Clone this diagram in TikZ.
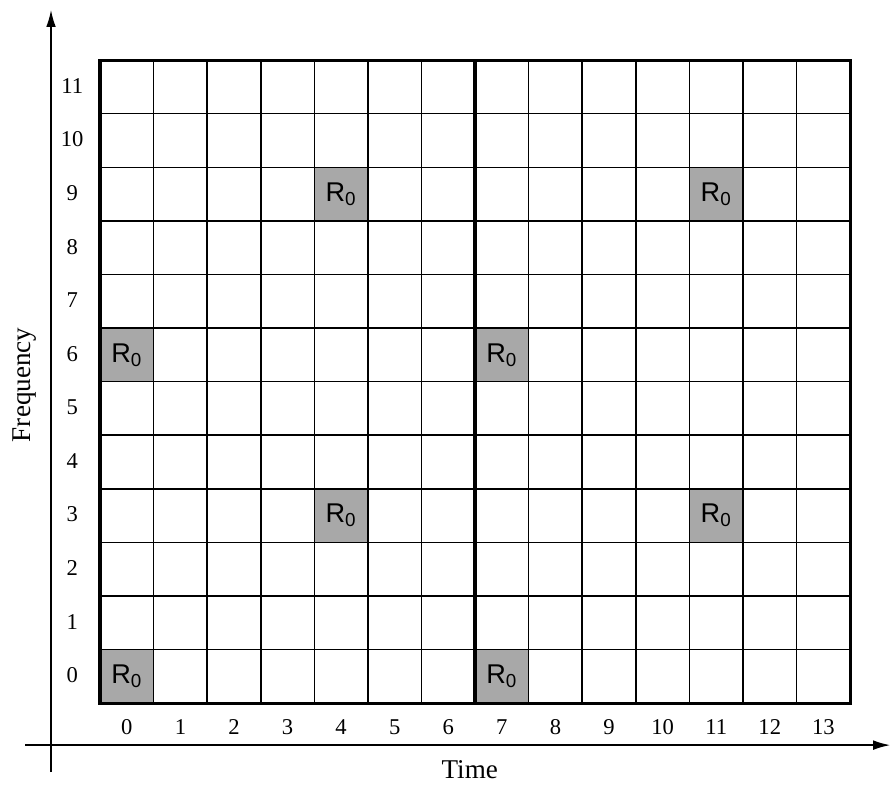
\documentclass[tikz,border=0pt]{standalone}
\usepackage{fontspec}
\setmainfont{Liberation Serif}
\setsansfont{Liberation Sans}
\usetikzlibrary{arrows.meta}
\definecolor{cellgray}{RGB}{168,168,168}

\begin{document}
\begin{tikzpicture}[
    x=1cm, y=1cm,
    cell/.style={
        rectangle,
        draw=black,
        line width=0.8pt,
        fill=cellgray,
        minimum size=1cm,
        inner sep=0pt,
        font=\sffamily\Large
    },
    ticklabel/.style={
        font=\large
    },
    axislabel/.style={
        font=\Large
    },
    axis/.style={
        line width=0.9pt,
        -{Latex[length=3.2mm,width=1.8mm]}
    }
]
    \useasboundingbox (-1.867,-1.531) rectangle (14.80,13.123);

    % Grid
    \draw [line width=0.8pt] (0,0) grid (14,12);

    % Resource cells
    \foreach \c/\r in {0/0, 0/6, 4/3, 4/9, 7/0, 7/6, 11/3, 11/9}
        \node [cell] (r\c-\r) at (\c+0.5,\r+0.5) {R\textsubscript{0}};

    \draw [line width=1.7pt] (0,0) rectangle (14,12);
    \draw [line width=1.7pt] (7,0) -- (7,12);

    % Tick labels
    \foreach \c in {0,...,13}
        \node [ticklabel] (t\c) at (\c+0.5,-0.45) {\c};
    \foreach \r in {0,...,11}
        \node [ticklabel] (f\r) at (-0.52,\r+0.52) {\r};

    % Axes
    \coordinate (xstart) at (-1.40,-0.784);
    \coordinate (xend) at (14.75,-0.784);
    \coordinate (ystart) at (-0.915,-1.29);
    \coordinate (yend) at (-0.915,12.94);
    \draw [axis] (xstart) -- (xend);
    \draw [axis] (ystart) -- (yend);

    \node [axislabel] (time) at (6.9,-1.25) {Time};
    \node [axislabel, rotate=90] (freq) at (-1.40,5.94) {Frequency};
\end{tikzpicture}
\end{document}
